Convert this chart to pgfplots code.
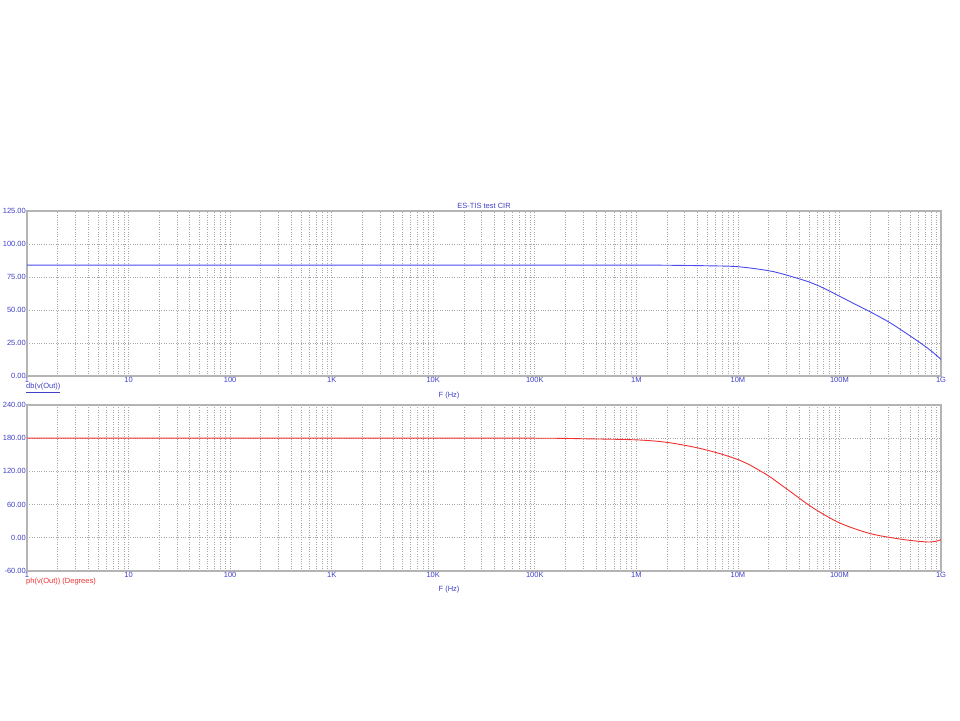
\documentclass[border=0pt]{standalone}
\usepackage{fontspec}
\setmainfont{Liberation Sans}
\usepackage{pgfplots}
\pgfplotsset{compat=1.18}
\definecolor{lblblue}{HTML}{4040C8}
\definecolor{curveblue}{HTML}{4A4AF0}
\definecolor{curvered}{HTML}{F03030}
\definecolor{axgray}{HTML}{B4B4B4}
\definecolor{gridgray}{HTML}{A8A8A8}
\begin{document}
\begin{tikzpicture}
\path[use as bounding box] (0pt,0pt) rectangle (960pt,720pt);
\begin{axis}[
  xmode=log, xmin=1, xmax=1e9,
  scale only axis, width=914pt, height=165pt,
  at={(27pt,344pt)}, anchor=south west,
  xtick={1,10,100,1000,1e4,1e5,1e6,1e7,1e8,1e9},
  xticklabels={1,10,100,1K,10K,100K,1M,10M,100M,1G},
  ymin=0, ymax=125, ytick={0,25,50,75,100,125},
  grid=both,
  major grid style={gridgray, dotted, line width=0.6pt},
  minor grid style={gridgray, dotted, line width=0.6pt},
  axis line style={axgray, line width=1.2pt},
  major tick length=0pt, minor tick length=0pt,
  tick label style={font=\fontsize{7.5}{8}\selectfont, text=lblblue, inner sep=1pt},
  yticklabel style={/pgf/number format/fixed, /pgf/number format/fixed zerofill, /pgf/number format/precision=2},
  /pgf/number format/assume math mode=true,
]
\addplot[curveblue, line width=0.9pt, smooth] coordinates {
(1,84) (1e3,84) (1e5,84) (1e6,84) (2e6,83.9) (5e6,83.5) (1e7,82.8) (2e7,79.8) (3e7,76.5) (5e7,71.3) (6.3e7,68.2) (1e8,60.5) (1.5e8,53.5) (2e8,48.7) (3e8,41.3) (4e8,35.2) (5e8,30.2) (6.2e8,25.3) (8e8,19) (1e9,12.6)
};
\end{axis}
\begin{axis}[
  xmode=log, xmin=1, xmax=1e9,
  scale only axis, width=914pt, height=166pt,
  at={(27pt,149pt)}, anchor=south west,
  xtick={1,10,100,1000,1e4,1e5,1e6,1e7,1e8,1e9},
  xticklabels={1,10,100,1K,10K,100K,1M,10M,100M,1G},
  ymin=-60, ymax=240, ytick={-60,0,60,120,180,240},
  grid=both,
  major grid style={gridgray, dotted, line width=0.6pt},
  minor grid style={gridgray, dotted, line width=0.6pt},
  axis line style={axgray, line width=1.2pt},
  major tick length=0pt, minor tick length=0pt,
  tick label style={font=\fontsize{7.5}{8}\selectfont, text=lblblue, inner sep=1pt},
  yticklabel style={/pgf/number format/fixed, /pgf/number format/fixed zerofill, /pgf/number format/precision=2},
  /pgf/number format/assume math mode=true,
]
\addplot[curvered, line width=0.9pt, smooth] coordinates {
(1,180) (1e3,180) (1e5,180) (3e5,179) (1e6,177) (2e6,172.5) (3.9e6,163) (6.7e6,152) (1.05e7,140) (1.3e7,132) (2e7,112) (2.6e7,97) (3.26e7,84) (5.5e7,54) (1e8,27) (2e8,7.7) (4e8,-2.4) (6.8e8,-7.2) (8.5e8,-7) (1e9,-3.6)
};
\end{axis}
\node[text=lblblue, font=\fontsize{7.5}{8}\selectfont] at (484pt,514pt) {ES-TIS test CIR};
\node[text=lblblue, font=\fontsize{7.5}{8}\selectfont, anchor=west, inner sep=0pt] at (26pt,332pt) {\underline{db(v(Out))}};
\node[text=lblblue, font=\fontsize{7.5}{8}\selectfont] at (449pt,324pt) {F (Hz)};
\node[text=curvered, font=\fontsize{7.5}{8}\selectfont, anchor=west, inner sep=0pt] at (26pt,138pt) {ph(v(Out)) (Degrees)};
\node[text=lblblue, font=\fontsize{7.5}{8}\selectfont] at (449pt,130pt) {F (Hz)};
\end{tikzpicture}
\end{document}
